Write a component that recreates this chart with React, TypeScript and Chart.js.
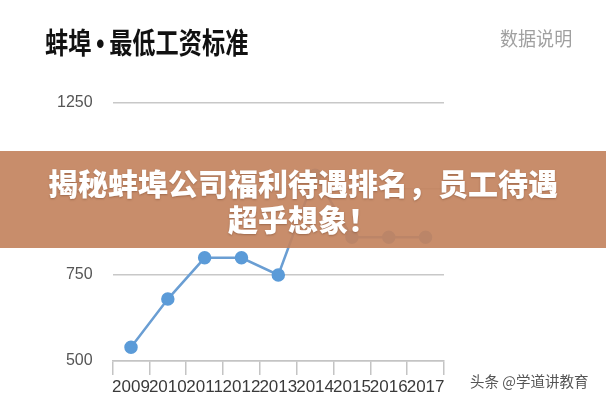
import React, { useEffect, useRef } from "react";
import { Chart, registerables } from "chart.js";

Chart.register(...registerables);

const titleA = "蚌埠";
const titleDot = "•";
const titleB = "最低工资标准";
const noteText = "数据说明";
const watermarkText = "头条 @学道讲教育";
const bannerLine1 = "揭秘蚌埠公司福利待遇排名，员工待遇";
const bannerLine2 = "超乎想象！";

const years = ["2009", "2010", "2011", "2012", "2013", "2014", "2015", "2016", "2017"];
const wages = [540, 680, 800, 800, 750, 1040, 860, 860, 860];
const yTickValues = [500, 750, 1000, 1250];

const tickFamily = "'Liberation Sans', Arial, sans-serif";

export default function App() {
  const canvasRef = useRef<HTMLCanvasElement | null>(null);

  useEffect(() => {
    const ctx = canvasRef.current;
    if (!ctx) return;
    const chart = new Chart(ctx, {
      type: "line",
      data: {
        labels: years,
        datasets: [
          {
            data: wages,
            borderColor: "#6a9ed3",
            backgroundColor: "#5b9bd8",
            pointBackgroundColor: "#5b9bd8",
            pointBorderColor: "#5b9bd8",
            pointRadius: 5.5,
            borderWidth: 2.5,
            tension: 0,
          },
        ],
      },
      options: {
        responsive: false,
        animation: false,
        layout: { padding: { left: 37, right: 162, top: 103, bottom: 0 } },
        plugins: {
          legend: { display: false },
          tooltip: { enabled: false },
          title: { display: false },
        },
        scales: {
          x: {
            type: "category",
            offset: true,
            grid: {
              offset: true,
              drawOnChartArea: false,
              drawTicks: true,
              tickLength: 14,
              color: "#c4c4c4",
              lineWidth: 1.5,
            },
            border: { display: true, color: "#c4c4c4", width: 1.5 },
            ticks: {
              autoSkip: false,
              maxRotation: 0,
              minRotation: 0,
              padding: 4,
              color: "#3a3a3a",
              font: { family: tickFamily, size: 17, lineHeight: 1.0 },
            },
          },
          y: {
            min: 500,
            max: 1250,
            afterBuildTicks: (axis: any) => {
              axis.ticks = yTickValues.map((v) => ({ value: v }));
            },
            grid: {
              color: "#c8c8c8",
              lineWidth: 1.5,
              drawTicks: false,
            },
            border: { display: false },
            ticks: {
              padding: 20,
              color: "#555",
              callback: (v: any) => String(v),
              font: { family: tickFamily, size: 16 },
            },
          },
        },
      },
    });
    return () => chart.destroy();
  }, []);

  return (
    <div
      style={{
        position: "fixed",
        left: 0,
        top: 0,
        width: 606,
        height: 400,
        background: "#ffffff",
        overflow: "hidden",
      }}
    >
      <canvas ref={canvasRef} width={606} height={400} style={{ position: "absolute", left: 0, top: 0 }} />
      <div
        style={{
          position: "absolute",
          left: 45,
          top: 23,
          fontFamily: "'Noto Sans CJK SC', sans-serif",
          fontWeight: 700,
          fontSize: 29,
          lineHeight: "36px",
          color: "#111",
          whiteSpace: "nowrap",
          transform: "scaleX(0.8)",
          transformOrigin: "0 0",
        }}
      >
        {titleA}
        <span style={{ fontFamily: "'Liberation Sans', sans-serif", fontWeight: 700, margin: "0 6px" }}>{titleDot}</span>
        {titleB}
      </div>
      <div
        style={{
          position: "absolute",
          left: 500,
          top: 26,
          fontFamily: "'Noto Sans CJK SC', sans-serif",
          fontSize: 19,
          lineHeight: "24px",
          color: "#a0a0a0",
          whiteSpace: "nowrap",
          transform: "scaleX(0.95)",
          transformOrigin: "0 0",
        }}
      >
        {noteText}
      </div>
      <div
        style={{
          position: "absolute",
          left: 470,
          top: 371,
          fontFamily: "'Noto Sans CJK SC', sans-serif",
          fontSize: 14.5,
          lineHeight: "20px",
          color: "#555",
          whiteSpace: "nowrap",
        }}
      >
        {watermarkText}
      </div>
      <div
        style={{
          position: "absolute",
          left: 0,
          top: 151,
          width: 606,
          height: 97,
          background: "rgba(195,131,94,0.92)",
          display: "flex",
          flexDirection: "column",
          alignItems: "center",
          justifyContent: "center",
          fontFamily: "'Noto Sans CJK SC', sans-serif",
          fontWeight: 900,
          fontSize: 30,
          lineHeight: "36px",
          color: "#ffffff",
          textShadow: "0 1px 2px rgba(80,40,20,0.35)",
          whiteSpace: "nowrap",
        }}
      >
        <div>{bannerLine1}</div>
        <div>{bannerLine2}</div>
      </div>
    </div>
  );
}
